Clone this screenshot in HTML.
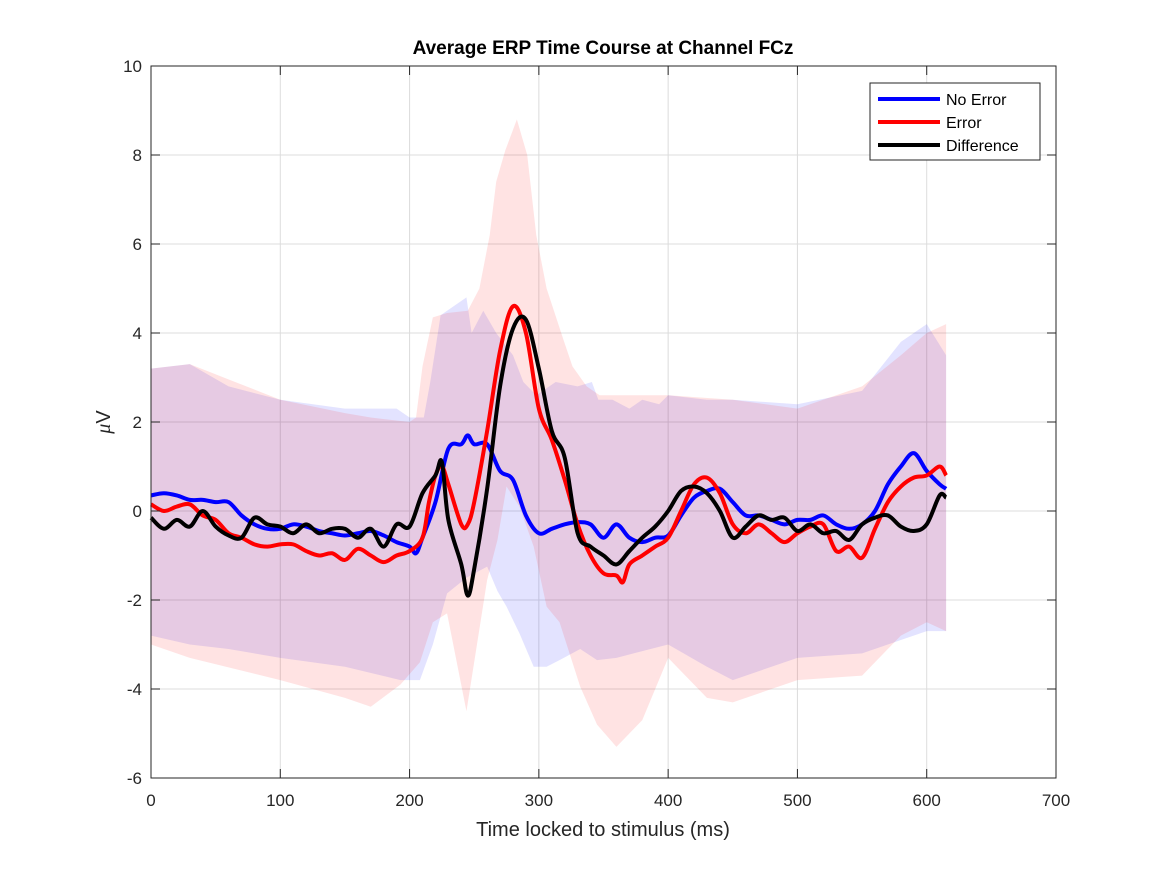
<!DOCTYPE html>
<html><head><meta charset="utf-8"><style>
body{margin:0;background:#fff;}
svg text{font-family:"Liberation Sans",sans-serif;}
</style></head><body>
<svg width="1167" height="875" xmlns="http://www.w3.org/2000/svg">
<rect x="0" y="0" width="1167" height="875" fill="#fff"/>
<g id="grid"></g>
<g id="bands"></g>
<g id="lines"></g>
<rect x="151" y="66" width="905" height="712" fill="none" stroke="#262626" stroke-width="1"/>
<g id="ticks"></g>
<text x="603" y="54" font-size="19" font-weight="bold" text-anchor="middle">Average ERP Time Course at Channel FCz</text>
<text x="603" y="836" font-size="20" text-anchor="middle" fill="#262626">Time locked to stimulus (ms)</text>
<text x="0" y="0" font-size="20" text-anchor="middle" fill="#262626" transform="translate(110,422) rotate(-90)"><tspan font-family="Liberation Serif" font-style="italic">μ</tspan>V</text>
<g>
<rect x="870" y="83" width="170" height="77" fill="#fff" stroke="#262626" stroke-width="1"/>
<g><line x1="878" y1="99" x2="940" y2="99" stroke="#0000ff" stroke-width="4"/><text x="946" y="105" font-size="16">No Error</text></g>
<g><line x1="878" y1="122" x2="940" y2="122" stroke="#ff0000" stroke-width="4"/><text x="946" y="128" font-size="16">Error</text></g>
<g><line x1="878" y1="145" x2="940" y2="145" stroke="#000" stroke-width="4"/><text x="946" y="151" font-size="16">Difference</text></g>
</g>
</svg>
<script>
const xTicks=[0,100,200,300,400,500,600,700];
const yTicks=[-6,-4,-2,0,2,4,6,8,10];
const blueT=[0,10,20,30,40,50,60,70,80,90,100,110,120,130,140,150,160,170,180,190,200,205,210,220,230,240,245,250,260,270,280,290,300,310,320,330,340,350,360,370,380,390,400,410,420,430,440,450,460,470,480,490,500,510,520,530,540,550,560,570,580,590,600,610,615];
const blueV=[0.35,0.4,0.35,0.25,0.25,0.2,0.2,-0.1,-0.3,-0.4,-0.4,-0.3,-0.35,-0.45,-0.5,-0.55,-0.5,-0.45,-0.55,-0.7,-0.8,-0.95,-0.6,0.2,1.4,1.5,1.7,1.5,1.5,0.9,0.7,-0.1,-0.5,-0.4,-0.3,-0.25,-0.3,-0.6,-0.3,-0.6,-0.7,-0.6,-0.55,-0.1,0.3,0.45,0.5,0.2,-0.1,-0.1,-0.2,-0.3,-0.2,-0.2,-0.1,-0.3,-0.4,-0.3,0.0,0.6,1.0,1.3,0.9,0.6,0.5];
const redT=[0,10,20,30,40,50,60,70,80,90,100,110,120,130,140,150,160,170,180,190,200,210,215,220,225,230,240,245,250,260,270,280,290,300,310,320,330,340,350,360,365,370,380,390,400,410,420,430,440,450,460,470,480,490,500,510,520,530,540,550,560,570,580,590,600,610,615];
const redV=[0.15,0.0,0.1,0.15,-0.1,-0.2,-0.5,-0.6,-0.75,-0.8,-0.75,-0.75,-0.9,-1.0,-0.95,-1.1,-0.85,-1.0,-1.15,-1.0,-0.9,-0.6,0.2,0.8,1.0,0.6,-0.3,-0.3,0.2,1.8,3.6,4.6,4.0,2.3,1.6,0.7,-0.3,-1.0,-1.4,-1.45,-1.6,-1.2,-1.0,-0.8,-0.6,0.0,0.6,0.75,0.4,-0.3,-0.5,-0.3,-0.5,-0.7,-0.5,-0.35,-0.3,-0.9,-0.8,-1.05,-0.4,0.2,0.55,0.75,0.8,1.0,0.8];
const diffT=[0,10,20,30,40,50,60,70,80,90,100,110,120,130,140,150,160,170,180,190,200,210,220,225,230,240,245,250,260,270,280,290,300,310,320,330,340,350,360,370,380,390,400,410,420,430,440,450,460,470,480,490,500,510,520,530,540,550,560,570,580,590,600,610,615];
const diffV=[-0.15,-0.4,-0.2,-0.35,0.0,-0.35,-0.55,-0.6,-0.15,-0.3,-0.35,-0.5,-0.3,-0.5,-0.4,-0.4,-0.6,-0.4,-0.8,-0.3,-0.35,0.4,0.8,1.1,-0.2,-1.2,-1.9,-1.3,0.5,2.8,4.1,4.3,3.2,1.8,1.2,-0.5,-0.8,-1.0,-1.2,-0.9,-0.6,-0.35,0.0,0.45,0.55,0.4,0.0,-0.6,-0.35,-0.1,-0.2,-0.15,-0.45,-0.3,-0.5,-0.45,-0.65,-0.3,-0.15,-0.1,-0.35,-0.45,-0.3,0.35,0.3];
const blueUpperT=[0,30,60,100,150,190,200,211,216,224,229,244,248,257,267,280,288,298,313,330,341,346,357,370,380,393,400,430,450,500,550,580,600,615];
const blueUpper=[3.2,3.3,2.8,2.5,2.3,2.3,2.1,2.1,2.9,4.4,4.5,4.8,4.0,4.5,4.0,3.5,2.9,2.6,2.9,2.8,2.9,2.5,2.5,2.3,2.5,2.4,2.6,2.5,2.5,2.4,2.7,3.8,4.2,3.5];
const blueLowerT=[0,30,60,100,150,193,208,218,229,244,260,268,275,285,296,306,316,332,345,360,400,430,450,500,550,580,600,615];
const blueLower=[-2.8,-3.0,-3.1,-3.3,-3.5,-3.8,-3.8,-3.0,-1.85,-1.5,-1.25,-1.8,-2.15,-2.75,-3.5,-3.5,-3.35,-3.1,-3.35,-3.3,-3.0,-3.5,-3.8,-3.3,-3.2,-2.9,-2.7,-2.7];
const redUpperT=[0,30,100,150,170,200,205,210,218,229,245,254,262,267,274,283,291,298,306,319,326,337,347,360,400,450,500,550,580,600,615];
const redUpper=[3.2,3.3,2.5,2.2,2.1,2.0,2.1,3.25,4.35,4.45,4.5,5.0,6.2,7.4,8.1,8.8,8.0,6.2,5.0,3.85,3.25,2.8,2.6,2.6,2.6,2.5,2.3,2.8,3.5,4.0,4.2];
const redLowerT=[0,30,100,150,170,193,208,218,229,244,260,268,275,285,296,306,316,332,345,360,380,400,430,450,500,550,580,600,615];
const redLower=[-3.0,-3.3,-3.8,-4.2,-4.4,-3.9,-3.4,-2.5,-2.3,-4.5,-1.55,-0.65,0.55,0.1,-0.8,-2.15,-2.5,-3.95,-4.8,-5.3,-4.7,-3.3,-4.2,-4.3,-3.8,-3.7,-2.8,-2.5,-2.7];

const X=t=>151+t*905/700;
const Y=v=>511-v*44.5;
const NS='http://www.w3.org/2000/svg';
function mk(tag,attrs,parent){const e=document.createElementNS(NS,tag);for(const k in attrs)e.setAttribute(k,attrs[k]);parent.appendChild(e);return e;}
function smooth(pts){let d='M'+pts[0][0]+','+pts[0][1];for(let i=0;i<pts.length-1;i++){const p0=pts[Math.max(0,i-1)],p1=pts[i],p2=pts[i+1],p3=pts[Math.min(pts.length-1,i+2)];const c1=[p1[0]+(p2[0]-p0[0])/6,p1[1]+(p2[1]-p0[1])/6],c2=[p2[0]-(p3[0]-p1[0])/6,p2[1]-(p3[1]-p1[1])/6];d+=' C'+c1[0]+','+c1[1]+' '+c2[0]+','+c2[1]+' '+p2[0]+','+p2[1];}return d;}
const grid=document.getElementById('grid'),ticks=document.getElementById('ticks');
xTicks.forEach(t=>{
 const g=mk('line',{x1:X(t),x2:X(t),y1:66,y2:778,stroke:'#dcdcdc','stroke-width':1},grid);
 
 
 mk('line',{x1:X(t),x2:X(t),y1:778,y2:769,stroke:'#262626'},ticks);
 mk('line',{x1:X(t),x2:X(t),y1:66,y2:75,stroke:'#262626'},ticks);
 const l=mk('text',{x:X(t),y:806,'font-size':17,'text-anchor':'middle',fill:'#262626'},ticks);
 l.textContent=t;
 
 
});
yTicks.forEach(v=>{
 const g=mk('line',{x1:151,x2:1056,y1:Y(v),y2:Y(v),stroke:'#dcdcdc','stroke-width':1},grid);
 
 
 mk('line',{x1:151,x2:160,y1:Y(v),y2:Y(v),stroke:'#262626'},ticks);
 mk('line',{x1:1056,x2:1047,y1:Y(v),y2:Y(v),stroke:'#262626'},ticks);
 const l=mk('text',{x:142,y:Y(v)+6,'font-size':17,'text-anchor':'end',fill:'#262626'},ticks);
 l.textContent=v;
 
 
});
const bands=document.getElementById('bands');
function band(UT,U,LT,L,color,name){
 const up=UT.map((t,i)=>X(t)+','+Y(U[i]));
 const lo=[];
 for(let i=LT.length-1;i>=0;i--)lo.push(X(LT[i])+','+Y(L[i]));
 const p=mk('polygon',{points:up.concat(lo).join(' '),fill:color,'fill-opacity':0.11},bands);
 
 
}
band(blueUpperT,blueUpper,blueLowerT,blueLower,'#0000ff','no-error-band');
band(redUpperT,redUpper,redLowerT,redLower,'#ff0000','error-band');
const lines=document.getElementById('lines');
function line(T,V,color,name){
 const p=mk('path',{d:smooth(T.map((t,i)=>[X(t),Y(V[i])])),fill:'none',stroke:color,'stroke-width':4,'stroke-linejoin':'round'},lines);
 
 
}
line(blueT,blueV,'#0000ff','no-error-line');
line(redT,redV,'#ff0000','error-line');
line(diffT,diffV,'#000000','difference-line');
</script>
</body></html>
